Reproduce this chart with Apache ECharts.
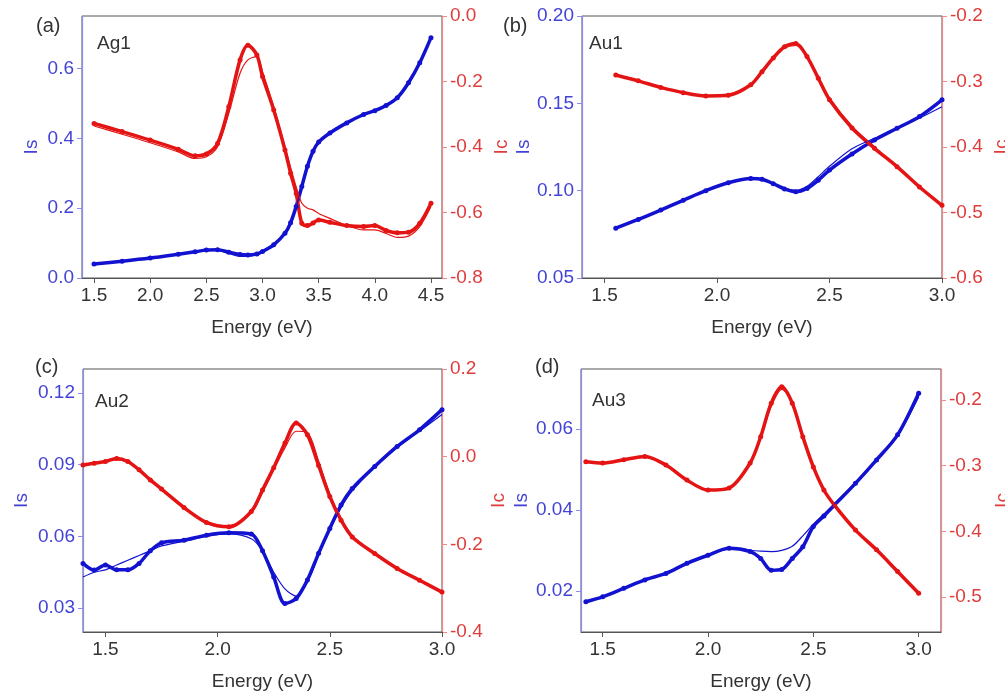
<!DOCTYPE html>
<html>
<head>
<meta charset="utf-8">
<script src="https://cdn.jsdelivr.net/npm/echarts@6/dist/echarts.min.js"></script>
<style>html,body{margin:0;padding:0;background:#fff;}#c{width:1005px;height:695px;}</style>
</head>
<body>
<div id="c"></div>
<script>
// ---------- Panel (a) Ag1 ----------
const E_a = [1.5, 1.75, 2.0, 2.25, 2.4, 2.5, 2.6, 2.7, 2.8, 2.87, 2.95, 3.0, 3.1, 3.2, 3.25, 3.3, 3.35, 3.4, 3.45, 3.5, 3.6, 3.75, 3.9, 4.0, 4.1, 4.2, 4.3, 4.4, 4.5];
const IsData_a = [0.040, 0.048, 0.057, 0.068, 0.075, 0.080, 0.081, 0.074, 0.067, 0.066, 0.069, 0.076, 0.095, 0.128, 0.158, 0.205, 0.262, 0.320, 0.363, 0.389, 0.415, 0.444, 0.468, 0.479, 0.494, 0.516, 0.559, 0.616, 0.688];
const IsFit_a  = [0.040, 0.048, 0.057, 0.068, 0.075, 0.080, 0.080, 0.070, 0.062, 0.062, 0.066, 0.074, 0.094, 0.128, 0.158, 0.205, 0.262, 0.320, 0.363, 0.389, 0.415, 0.444, 0.468, 0.479, 0.494, 0.516, 0.559, 0.616, 0.688];
const IcData_a = [-0.328, -0.353, -0.379, -0.407, -0.427, -0.421, -0.389, -0.277, -0.134, -0.089, -0.119, -0.185, -0.287, -0.409, -0.480, -0.542, -0.633, -0.640, -0.632, -0.623, -0.630, -0.640, -0.643, -0.640, -0.655, -0.662, -0.660, -0.633, -0.572];
const IcFit_a  = [-0.336, -0.361, -0.387, -0.415, -0.435, -0.430, -0.399, -0.297, -0.175, -0.134, -0.124, -0.170, -0.277, -0.399, -0.462, -0.522, -0.572, -0.587, -0.592, -0.603, -0.618, -0.640, -0.653, -0.653, -0.664, -0.676, -0.672, -0.643, -0.582];

// ---------- Panel (b) Au1 ----------
const E_b = [1.55, 1.65, 1.75, 1.85, 1.95, 2.05, 2.15, 2.2, 2.25, 2.3, 2.35, 2.4, 2.45, 2.5, 2.6, 2.7, 2.8, 2.9, 3.0];
const IsData_b = [0.0785, 0.0835, 0.0889, 0.0945, 0.1000, 0.1045, 0.1070, 0.1065, 0.1040, 0.1010, 0.0994, 0.1013, 0.1060, 0.1118, 0.1210, 0.1290, 0.1357, 0.1424, 0.1520];
const IsFit_b  = [0.0785, 0.0835, 0.0889, 0.0945, 0.1000, 0.1045, 0.1068, 0.1062, 0.1040, 0.1015, 0.1002, 0.1025, 0.1080, 0.1140, 0.1240, 0.1300, 0.1355, 0.1415, 0.1480];
const IcData_b = [-0.290, -0.299, -0.309, -0.317, -0.322, -0.321, -0.305, -0.285, -0.264, -0.247, -0.242, -0.262, -0.295, -0.328, -0.371, -0.402, -0.430, -0.461, -0.489];
const IcFit_b  = [-0.290, -0.299, -0.309, -0.317, -0.322, -0.321, -0.306, -0.287, -0.265, -0.249, -0.245, -0.262, -0.293, -0.325, -0.368, -0.400, -0.430, -0.461, -0.489];

// ---------- Panel (c) Au2 ----------
const E_c = [1.4, 1.45, 1.5, 1.55, 1.6, 1.65, 1.7, 1.75, 1.85, 1.95, 2.05, 2.15, 2.2, 2.25, 2.3, 2.35, 2.4, 2.45, 2.5, 2.55, 2.6, 2.7, 2.8, 2.9, 3.0];
const IsData_c = [0.0487, 0.0459, 0.0480, 0.0460, 0.0460, 0.0487, 0.0540, 0.0573, 0.0584, 0.0605, 0.0615, 0.0610, 0.0540, 0.0430, 0.0319, 0.0340, 0.0417, 0.0529, 0.0633, 0.0731, 0.0800, 0.0892, 0.0976, 0.1046, 0.1130];
const IsFit_c  = [0.0430, 0.0450, 0.0460, 0.0480, 0.0500, 0.0520, 0.0540, 0.0560, 0.0580, 0.0600, 0.0610, 0.0590, 0.0540, 0.0450, 0.0380, 0.0350, 0.0410, 0.0520, 0.0630, 0.0720, 0.0790, 0.0890, 0.0970, 0.1040, 0.1110];
const IcData_c = [-0.019, -0.015, -0.011, -0.004, -0.011, -0.030, -0.053, -0.074, -0.116, -0.150, -0.160, -0.125, -0.076, -0.025, 0.031, 0.077, 0.050, -0.020, -0.091, -0.145, -0.183, -0.221, -0.255, -0.282, -0.309];
const IcFit_c  = [-0.019, -0.015, -0.011, -0.006, -0.013, -0.031, -0.053, -0.074, -0.116, -0.150, -0.158, -0.128, -0.082, -0.030, 0.020, 0.058, 0.055, -0.010, -0.085, -0.140, -0.180, -0.221, -0.255, -0.282, -0.309];

// ---------- Panel (d) Au3 ----------
const E_d = [1.42, 1.5, 1.6, 1.7, 1.8, 1.9, 2.0, 2.1, 2.2, 2.25, 2.3, 2.35, 2.4, 2.45, 2.5, 2.55, 2.6, 2.7, 2.8, 2.9, 3.0];
const IsData_d = [0.0173, 0.0185, 0.0206, 0.0227, 0.0243, 0.0268, 0.0288, 0.0305, 0.0297, 0.0280, 0.0251, 0.0253, 0.0280, 0.0309, 0.0359, 0.0385, 0.0412, 0.0466, 0.0524, 0.0586, 0.0689];
const IsFit_d  = [0.0173, 0.0185, 0.0206, 0.0227, 0.0243, 0.0268, 0.0288, 0.0303, 0.0300, 0.0298, 0.0297, 0.0300, 0.0310, 0.0336, 0.0365, 0.0390, 0.0415, 0.0468, 0.0522, 0.0585, 0.0680];
const IcData_d = [-0.294, -0.296, -0.291, -0.286, -0.299, -0.322, -0.337, -0.334, -0.296, -0.256, -0.205, -0.180, -0.205, -0.256, -0.302, -0.337, -0.360, -0.398, -0.428, -0.461, -0.494];
const IcFit_d  = [-0.294, -0.296, -0.291, -0.287, -0.299, -0.322, -0.337, -0.334, -0.297, -0.258, -0.210, -0.184, -0.207, -0.256, -0.302, -0.337, -0.360, -0.398, -0.428, -0.461, -0.494];

// ---------- tick labels ----------
const xTicks_a = [1.5, 2.0, 2.5, 3.0, 3.5, 4.0, 4.5];
const xTicks_bcd = [1.5, 2.0, 2.5, 3.0];
const isTicks_a = [0.0, 0.2, 0.4, 0.6];
const icTicks_a = [-0.8, -0.6, -0.4, -0.2, 0.0];
const isTicks_b = [0.05, 0.10, 0.15, 0.20];
const icTicks_b = [-0.6, -0.5, -0.4, -0.3, -0.2];
const isTicks_c = [0.03, 0.06, 0.09, 0.12];
const icTicks_c = [-0.4, -0.2, 0.0, 0.2];
const isTicks_d = [0.02, 0.04, 0.06];
const icTicks_d = [-0.5, -0.4, -0.3, -0.2];
const panelTags = ['(a)', '(b)', '(c)', '(d)'];
const sampleNames = ['Ag1', 'Au1', 'Au2', 'Au3'];

const FONT = '"Liberation Sans", Arial, sans-serif';
const BLUE = '#1212d0', RED = '#e51414';
const BLUE_TXT = '#4343d8', RED_TXT = '#e03c3c';
const BLUE_AX = '#8c8cf0', RED_AX = '#f08a8a', GRAY_AX = '#555';

const panels = [
  {grid:{left:82, top:16, width:360, height:262}, xr:[1.393,4.598], xt:xTicks_a,
   ly:[0,0.75], lyt:isTicks_a, ld:1, ry:[-0.8,0], ryt:icTicks_a, rd:1,
   E:E_a, isD:IsData_a, isF:IsFit_a, icD:IcData_a, icF:IcFit_a, lgap:41, rgap:50,
   tag:[36,16], name:[97,34]},
  {grid:{left:582, top:16, width:360, height:262}, xr:[1.4,3.0], xt:xTicks_bcd,
   ly:[0.05,0.20], lyt:isTicks_b, ld:2, ry:[-0.6,-0.2], ryt:icTicks_b, rd:1,
   E:E_b, isD:IsData_b, isF:IsFit_b, icD:IcData_b, icF:IcFit_b, lgap:41, rgap:50,
   tag:[503,16], name:[589,34]},
  {grid:{left:83, top:369, width:359, height:263}, xr:[1.4,3.0], xt:xTicks_bcd,
   ly:[0.02,0.13], lyt:isTicks_c, ld:2, ry:[-0.4,0.2], ryt:icTicks_c, rd:1,
   E:E_c, isD:IsData_c, isF:IsFit_c, icD:IcData_c, icF:IcFit_c, lgap:52, rgap:47,
   tag:[35,357], name:[95,392]},
  {grid:{left:581, top:369, width:360, height:263}, xr:[1.397,3.106], xt:xTicks_bcd,
   ly:[0.0098,0.0749], lyt:isTicks_d, ld:2, ry:[-0.553,-0.153], ryt:icTicks_d, rd:1,
   E:E_d, isD:IsData_d, isF:IsFit_d, icD:IcData_d, icF:IcFit_d, lgap:50, rgap:52,
   tag:[535,357], name:[592,391]}
];

const grid = [], xAxis = [], yAxis = [], series = [], title = [];
function pairs(xs, ys){ return xs.map((x,i)=>[x, ys[i]]); }

panels.forEach((p, i) => {
  grid.push(Object.assign({show:true, borderColor:GRAY_AX, borderWidth:1, backgroundColor:'transparent',
    containLabel:false, outerBoundsMode:'none'}, p.grid));
  xAxis.push({
    type:'value', gridIndex:i, min:p.xr[0], max:p.xr[1],
    name:'Energy (eV)', nameLocation:'middle', nameGap:40,
    nameTextStyle:{color:'#333', fontSize:19, fontFamily:FONT},
    axisLine:{show:true, onZero:false, lineStyle:{color:GRAY_AX, width:1}},
    axisTick:{show:true, inside:false, length:5, customValues:p.xt, lineStyle:{color:GRAY_AX}},
    axisLabel:{customValues:p.xt, formatter:v=>v.toFixed(1), color:'#333', fontSize:19, fontFamily:FONT, margin:8},
    splitLine:{show:false}
  });
  yAxis.push({
    type:'value', gridIndex:i, position:'left', min:p.ly[0], max:p.ly[1],
    name:'Is', nameLocation:'middle', nameGap:p.lgap, nameRotate:90,
    nameTextStyle:{color:BLUE_TXT, fontSize:19, fontFamily:FONT},
    axisLine:{show:true, onZero:false, lineStyle:{color:BLUE_AX, width:1.2}},
    axisTick:{show:true, inside:false, length:5, customValues:p.lyt, lineStyle:{color:BLUE_AX}},
    axisLabel:{customValues:p.lyt, formatter:v=>v.toFixed(p.ld), color:BLUE_TXT, fontSize:19, fontFamily:FONT, margin:8},
    splitLine:{show:false}
  });
  yAxis.push({
    type:'value', gridIndex:i, position:'right', min:p.ry[0], max:p.ry[1],
    name:'Ic', nameLocation:'middle', nameGap:p.rgap, nameRotate:90,
    nameTextStyle:{color:RED_TXT, fontSize:19, fontFamily:FONT},
    axisLine:{show:true, onZero:false, lineStyle:{color:RED_AX, width:1.2}},
    axisTick:{show:true, inside:false, length:5, customValues:p.ryt, lineStyle:{color:RED_AX}},
    axisLabel:{customValues:p.ryt, formatter:v=>v.toFixed(p.rd), color:RED_TXT, fontSize:19, fontFamily:FONT, margin:8},
    splitLine:{show:false}
  });
  const yl = 2*i, yr = 2*i+1;
  const dataStyle = (c)=>({type:'line', xAxisIndex:i, smooth:0.3, symbol:'circle', symbolSize:5,
     showSymbol:true, itemStyle:{color:c}, lineStyle:{color:c, width:3.5}, z:2, silent:true, animation:false});
  const fitStyle = (c)=>({type:'line', xAxisIndex:i, smooth:0.3, symbol:'none',
     lineStyle:{color:c, width:1.2}, z:3, silent:true, animation:false});
  series.push(Object.assign(dataStyle(BLUE), {yAxisIndex:yl, data:pairs(p.E, p.isD)}));
  series.push(Object.assign(fitStyle(BLUE), {yAxisIndex:yl, data:pairs(p.E, p.isF)}));
  series.push(Object.assign(dataStyle(RED), {yAxisIndex:yr, data:pairs(p.E, p.icD)}));
  series.push(Object.assign(fitStyle(RED), {yAxisIndex:yr, data:pairs(p.E, p.icF)}));
  title.push({text:panelTags[i], left:p.tag[0], top:p.tag[1], padding:0,
    textStyle:{color:'#333', fontSize:20, fontWeight:'normal', fontFamily:FONT}});
  title.push({text:sampleNames[i], left:p.name[0], top:p.name[1], padding:0,
    textStyle:{color:'#333', fontSize:19, fontWeight:'normal', fontFamily:FONT}});
});

const chart = echarts.init(document.getElementById('c'), null, {renderer:'canvas'});
chart.setOption({backgroundColor:'#fff', animation:false, title, grid, xAxis, yAxis, series});
</script>
</body>
</html>
